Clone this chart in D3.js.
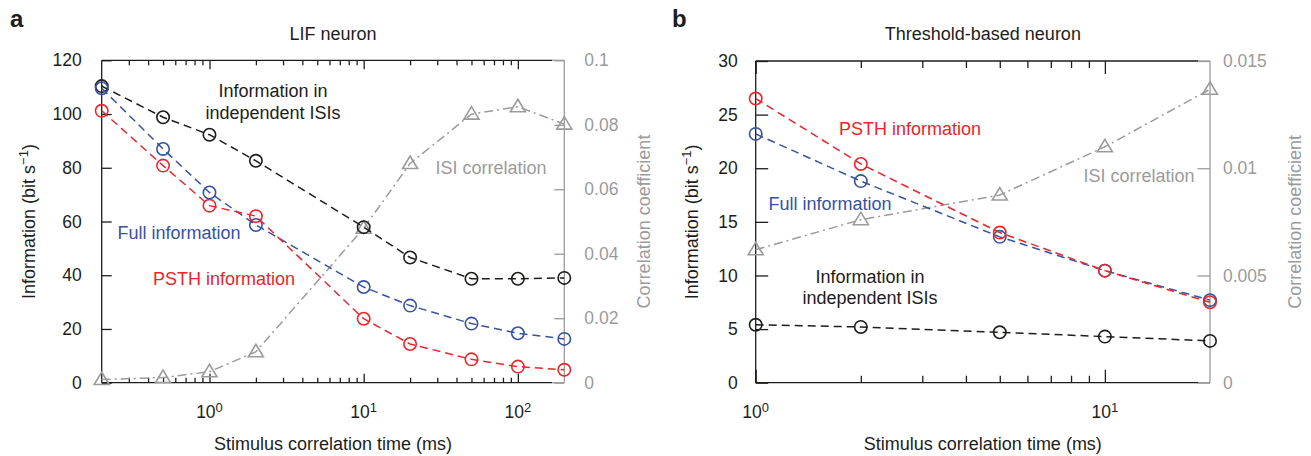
<!DOCTYPE html>
<html>
<head>
<meta charset="utf-8">
<script src="https://cdn.jsdelivr.net/npm/d3@7"></script>
<style>
  body { margin: 0; background: #fff; }
  text { font-family: "Liberation Sans", Arial, Helvetica, sans-serif; }
</style>
</head>
<body>
<svg id="chart"></svg>
<script>
// ---- panel a : LIF neuron ----
const tauA = [0.2, 0.5, 1, 2, 10, 20, 50, 100, 200];
const indepA = [110.4, 98.8, 92.3, 82.6, 57.9, 46.6, 38.7, 38.7, 39.0];
const fullA = [109.6, 87.0, 70.8, 58.7, 35.6, 28.7, 22.0, 18.4, 16.3];
const psthA = [101.2, 80.8, 65.9, 62.0, 23.8, 14.4, 8.7, 6.0, 4.8];
const isiCorrA = [0.001, 0.0016, 0.0034, 0.0096, 0.0479, 0.068, 0.0833, 0.0856, 0.0802];
const yTicksA = [0, 20, 40, 60, 80, 100, 120];
const corrTicksA = [0, 0.02, 0.04, 0.06, 0.08, 0.1];
const corrLabelsA = ["0", "0.02", "0.04", "0.06", "0.08", "0.1"];
const xMajorA = [1, 10, 100];
const xMinorA = [0.3, 0.4, 0.5, 0.6, 0.7, 0.8, 0.9, 2, 3, 4, 5, 6, 7, 8, 9, 20, 30, 40, 50, 60, 70, 80, 90];
const xLabelExpA = [0, 1, 2];

// ---- panel b : threshold-based neuron ----
const tauB = [1, 2, 5, 10, 20];
const indepB = [5.4, 5.2, 4.7, 4.3, 3.9];
const fullB = [23.2, 18.8, 13.6, 10.45, 7.7];
const psthB = [26.5, 20.4, 14.0, 10.45, 7.5];
const isiCorrB = [0.0062, 0.0076, 0.00875, 0.011, 0.01368];
const yTicksB = [0, 5, 10, 15, 20, 25, 30];
const corrTicksB = [0, 0.005, 0.01, 0.015];
const corrLabelsB = ["0", "0.005", "0.01", "0.015"];
const xMajorB = [1, 10];
const xMinorB = [2, 3, 4, 5, 6, 7, 8, 9];
const xLabelExpB = [0, 1];

const RED = "#e8262b", BLUE = "#3652a3", BLACK = "#1d1d1b", GRAY = "#9b9b9b";

const svg = d3.select("#chart").attr("width", 1311).attr("height", 456);

function panel(cfg) {
  const g = svg.append("g");
  const x = d3.scaleLog().domain(cfg.xDomain).range([cfg.left, cfg.right]);
  const y = d3.scaleLinear().domain(cfg.yDomain).range([cfg.bottom, cfg.top]);
  const y2 = d3.scaleLinear().domain(cfg.y2Domain).range([cfg.bottom, cfg.top]);
  const cut = cfg.right - 12;

  const style = (sel, col) => {
    sel.select(".domain").remove();
    sel.selectAll("line").attr("stroke", col).attr("stroke-width", 1.3);
    sel.selectAll("text").attr("fill", col).attr("font-size", 17.5);
  };

  // left axis
  g.append("g").attr("transform", `translate(${cfg.left},0)`)
    .call(d3.axisLeft(y).tickValues(cfg.yTicks).tickSize(-cfg.yTickLen).tickPadding(cfg.yPad))
    .call(s => style(s, BLACK));

  // right axis (correlation)
  g.append("g").attr("transform", `translate(${cfg.right},0)`)
    .call(d3.axisRight(y2).tickValues(cfg.y2Ticks).tickSize(-cfg.yTickLen).tickPadding(cfg.y2Pad)
      .tickFormat((d, i) => cfg.y2Labels[i]))
    .call(s => style(s, GRAY));

  // x ticks bottom + top
  [[d3.axisBottom, cfg.bottom], [d3.axisTop, cfg.top]].forEach(([ax, yy]) => {
    g.append("g").attr("transform", `translate(0,${yy})`)
      .call(ax(x).tickValues(cfg.xMajor).tickSize(-cfg.majLen).tickFormat(""))
      .call(s => style(s, BLACK));
    g.append("g").attr("transform", `translate(0,${yy})`)
      .call(ax(x).tickValues(cfg.xMinor).tickSize(-cfg.minLen).tickFormat(""))
      .call(s => style(s, BLACK));
  });

  // frame lines
  const seg = (x1, y1, x2, y2_, col) => g.append("line")
    .attr("x1", x1).attr("y1", y1).attr("x2", x2).attr("y2", y2_)
    .attr("stroke", col).attr("stroke-width", 1.3);
  seg(cfg.left, cfg.top, cfg.left, cfg.bottom, BLACK);
  seg(cfg.left, cfg.bottom, cut, cfg.bottom, BLACK);
  seg(cfg.left, cfg.top, cut, cfg.top, BLACK);
  seg(cut, cfg.bottom, cfg.right, cfg.bottom, GRAY);
  seg(cut, cfg.top, cfg.right, cfg.top, GRAY);
  seg(cfg.right, cfg.top, cfg.right, cfg.bottom, GRAY);

  // x tick labels 10^n
  cfg.xExp.forEach(e => {
    const t = g.append("text").attr("x", x(Math.pow(10, e))).attr("y", cfg.bottom + 35)
      .attr("text-anchor", "middle").attr("fill", BLACK).attr("font-size", 17.5);
    t.append("tspan").text("10");
    t.append("tspan").attr("dy", -6).attr("font-size", 13).text(e);
  });

  // series
  const line = (yS) => d3.line().x(d => x(d[0])).y(d => yS(d[1]));
  const corr = cfg.tau.map((t, i) => [t, cfg.isiCorr[i]]);
  g.append("path").datum(corr).attr("d", line(y2)).attr("fill", "none")
    .attr("stroke", GRAY).attr("stroke-width", 1.5).attr("stroke-dasharray", "9,4,2,4");
  g.selectAll(null).data(corr).join("path")
    .attr("transform", d => `translate(${x(d[0])},${y2(d[1])})`)
    .attr("d", "M0,-7.5L7.5,5L-7.5,5Z").attr("fill", "none")
    .attr("stroke", GRAY).attr("stroke-width", 1.6);

  [[cfg.indep, BLACK], [cfg.full, BLUE], [cfg.psth, RED]].forEach(([vals, col]) => {
    const pts = cfg.tau.map((t, i) => [t, vals[i]]);
    g.append("path").datum(pts).attr("d", line(y)).attr("fill", "none")
      .attr("stroke", col).attr("stroke-width", 1.5).attr("stroke-dasharray", "8,5");
    g.selectAll(null).data(pts).join("circle")
      .attr("cx", d => x(d[0])).attr("cy", d => y(d[1])).attr("r", 6.2)
      .attr("fill", "none").attr("stroke", col).attr("stroke-width", 1.6);
  });

  // annotations
  cfg.notes.forEach(n => {
    g.append("text").attr("x", n.x).attr("y", n.y).attr("text-anchor", "middle")
      .attr("fill", n.c).attr("font-size", 18).text(n.t);
  });

  // titles and axis labels
  const mid = (cfg.left + cfg.right) / 2;
  g.append("text").attr("x", mid).attr("y", 40).attr("text-anchor", "middle")
    .attr("fill", BLACK).attr("font-size", 18).text(cfg.title);
  g.append("text").attr("x", cfg.letterX).attr("y", 27).attr("fill", BLACK)
    .attr("font-size", 24).attr("font-weight", "bold").text(cfg.letter);
  g.append("text").attr("x", mid).attr("y", 450).attr("text-anchor", "middle")
    .attr("fill", BLACK).attr("font-size", 18).text("Stimulus correlation time (ms)");

  const ymid = (cfg.top + cfg.bottom) / 2;
  const yl = g.append("text").attr("transform", `translate(${cfg.yLabelX},${ymid}) rotate(-90)`)
    .attr("text-anchor", "middle").attr("fill", BLACK).attr("font-size", 18);
  yl.append("tspan").text("Information (bit s");
  yl.append("tspan").attr("dy", -7).attr("font-size", 13).text("\u22121");
  yl.append("tspan").attr("dy", 7).text(")");
  g.append("text").attr("transform", `translate(${cfg.y2LabelX},${ymid}) rotate(-90)`)
    .attr("text-anchor", "middle").attr("fill", GRAY).attr("font-size", 18)
    .text("Correlation coefficient");
}

panel({
  left: 101.7, right: 564.3, top: 60.3, bottom: 382.7,
  xDomain: [0.2, 200], yDomain: [0, 120], y2Domain: [0, 0.1],
  yTicks: yTicksA, y2Ticks: corrTicksA, y2Labels: corrLabelsA,
  xMajor: xMajorA, xMinor: xMinorA, xExp: xLabelExpA,
  yTickLen: 10, majLen: 9, minLen: 5, yPad: 20, y2Pad: 20,
  tau: tauA, indep: indepA, full: fullA, psth: psthA, isiCorr: isiCorrA,
  title: "LIF neuron", letter: "a", letterX: 10, yLabelX: 35, y2LabelX: 650,
  notes: [
    { t: "Information in", x: 273, y: 97, c: BLACK },
    { t: "independent ISIs", x: 273, y: 119, c: BLACK },
    { t: "Full information", x: 179, y: 239, c: BLUE },
    { t: "PSTH information", x: 224, y: 285, c: RED },
    { t: "ISI correlation", x: 491, y: 174, c: GRAY }
  ]
});

panel({
  left: 755.7, right: 1210, top: 61, bottom: 382.7,
  xDomain: [1, 20], yDomain: [0, 30], y2Domain: [0, 0.015],
  yTicks: yTicksB, y2Ticks: corrTicksB, y2Labels: corrLabelsB,
  xMajor: xMajorB, xMinor: xMinorB, xExp: xLabelExpB,
  yTickLen: 12.5, majLen: 13, minLen: 7, yPad: 18, y2Pad: 13,
  tau: tauB, indep: indepB, full: fullB, psth: psthB, isiCorr: isiCorrB,
  title: "Threshold-based neuron", letter: "b", letterX: 672, yLabelX: 698, y2LabelX: 1301,
  notes: [
    { t: "PSTH information", x: 910, y: 135, c: RED },
    { t: "Full information", x: 830, y: 210, c: BLUE },
    { t: "ISI correlation", x: 1139, y: 182, c: GRAY },
    { t: "Information in", x: 870, y: 283, c: BLACK },
    { t: "independent ISIs", x: 870, y: 304, c: BLACK }
  ]
});
</script>
</body>
</html>
